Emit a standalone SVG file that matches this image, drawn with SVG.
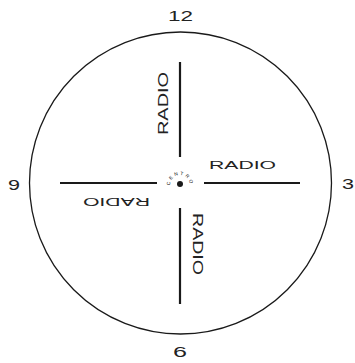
<svg xmlns="http://www.w3.org/2000/svg" width="355" height="363" viewBox="0 0 355 363">
<style>
.ln{stroke:#1a1a1a;stroke-width:2.2;fill:none}
.h{font-family:"Liberation Sans",Arial,sans-serif;fill:#222;font-size:11.8px}
.v{font-family:"Liberation Sans",Arial,sans-serif;fill:#222;font-size:14px}
.n{font-family:"Liberation Sans",Arial,sans-serif;fill:#222;font-size:14px}
</style>
<defs>
<path id="arc" d="M 170,185 A 10,10 0 0 1 190,185"/>
</defs>
<rect width="355" height="363" fill="#fff"/>
<g id="dial">
<circle cx="180.5" cy="183" r="151" fill="none" stroke="#1a1a1a" stroke-width="1.3"/>
</g>
<g id="connectors">
<line class="ln" x1="180" y1="62" x2="180" y2="157"/>
<line class="ln" x1="180" y1="208" x2="180" y2="304"/>
<line class="ln" x1="60" y1="183" x2="157" y2="183"/>
<line class="ln" x1="204" y1="183" x2="300" y2="183"/>
</g>
<g id="center">
<circle cx="180" cy="184" r="3" fill="#1a1a1a"/>
<text font-family="Liberation Sans,Arial,sans-serif" font-size="4.8" fill="#111" letter-spacing="2"><textPath href="#arc" startOffset="50%" text-anchor="middle">CENTRO</textPath></text>
</g>
<g id="labels">
<text class="n" x="168" y="20.5" textLength="25" lengthAdjust="spacingAndGlyphs">12</text>
<text class="n" x="173" y="357" textLength="14" lengthAdjust="spacingAndGlyphs">6</text>
<text class="n" x="8" y="190" textLength="12" lengthAdjust="spacingAndGlyphs">9</text>
<text class="n" x="342" y="188.5" textLength="12" lengthAdjust="spacingAndGlyphs">3</text>
<text class="h" x="209" y="168.5" textLength="67" lengthAdjust="spacingAndGlyphs">RADIO</text>
<text class="v" transform="translate(168,135) rotate(-90)" textLength="63" lengthAdjust="spacingAndGlyphs">RADIO</text>
<text class="v" transform="translate(193,213) rotate(90)" textLength="62" lengthAdjust="spacingAndGlyphs">RADIO</text>
<text class="h" transform="translate(150,198) rotate(180)" textLength="67" lengthAdjust="spacingAndGlyphs">RADIO</text>
</g>
</svg>
